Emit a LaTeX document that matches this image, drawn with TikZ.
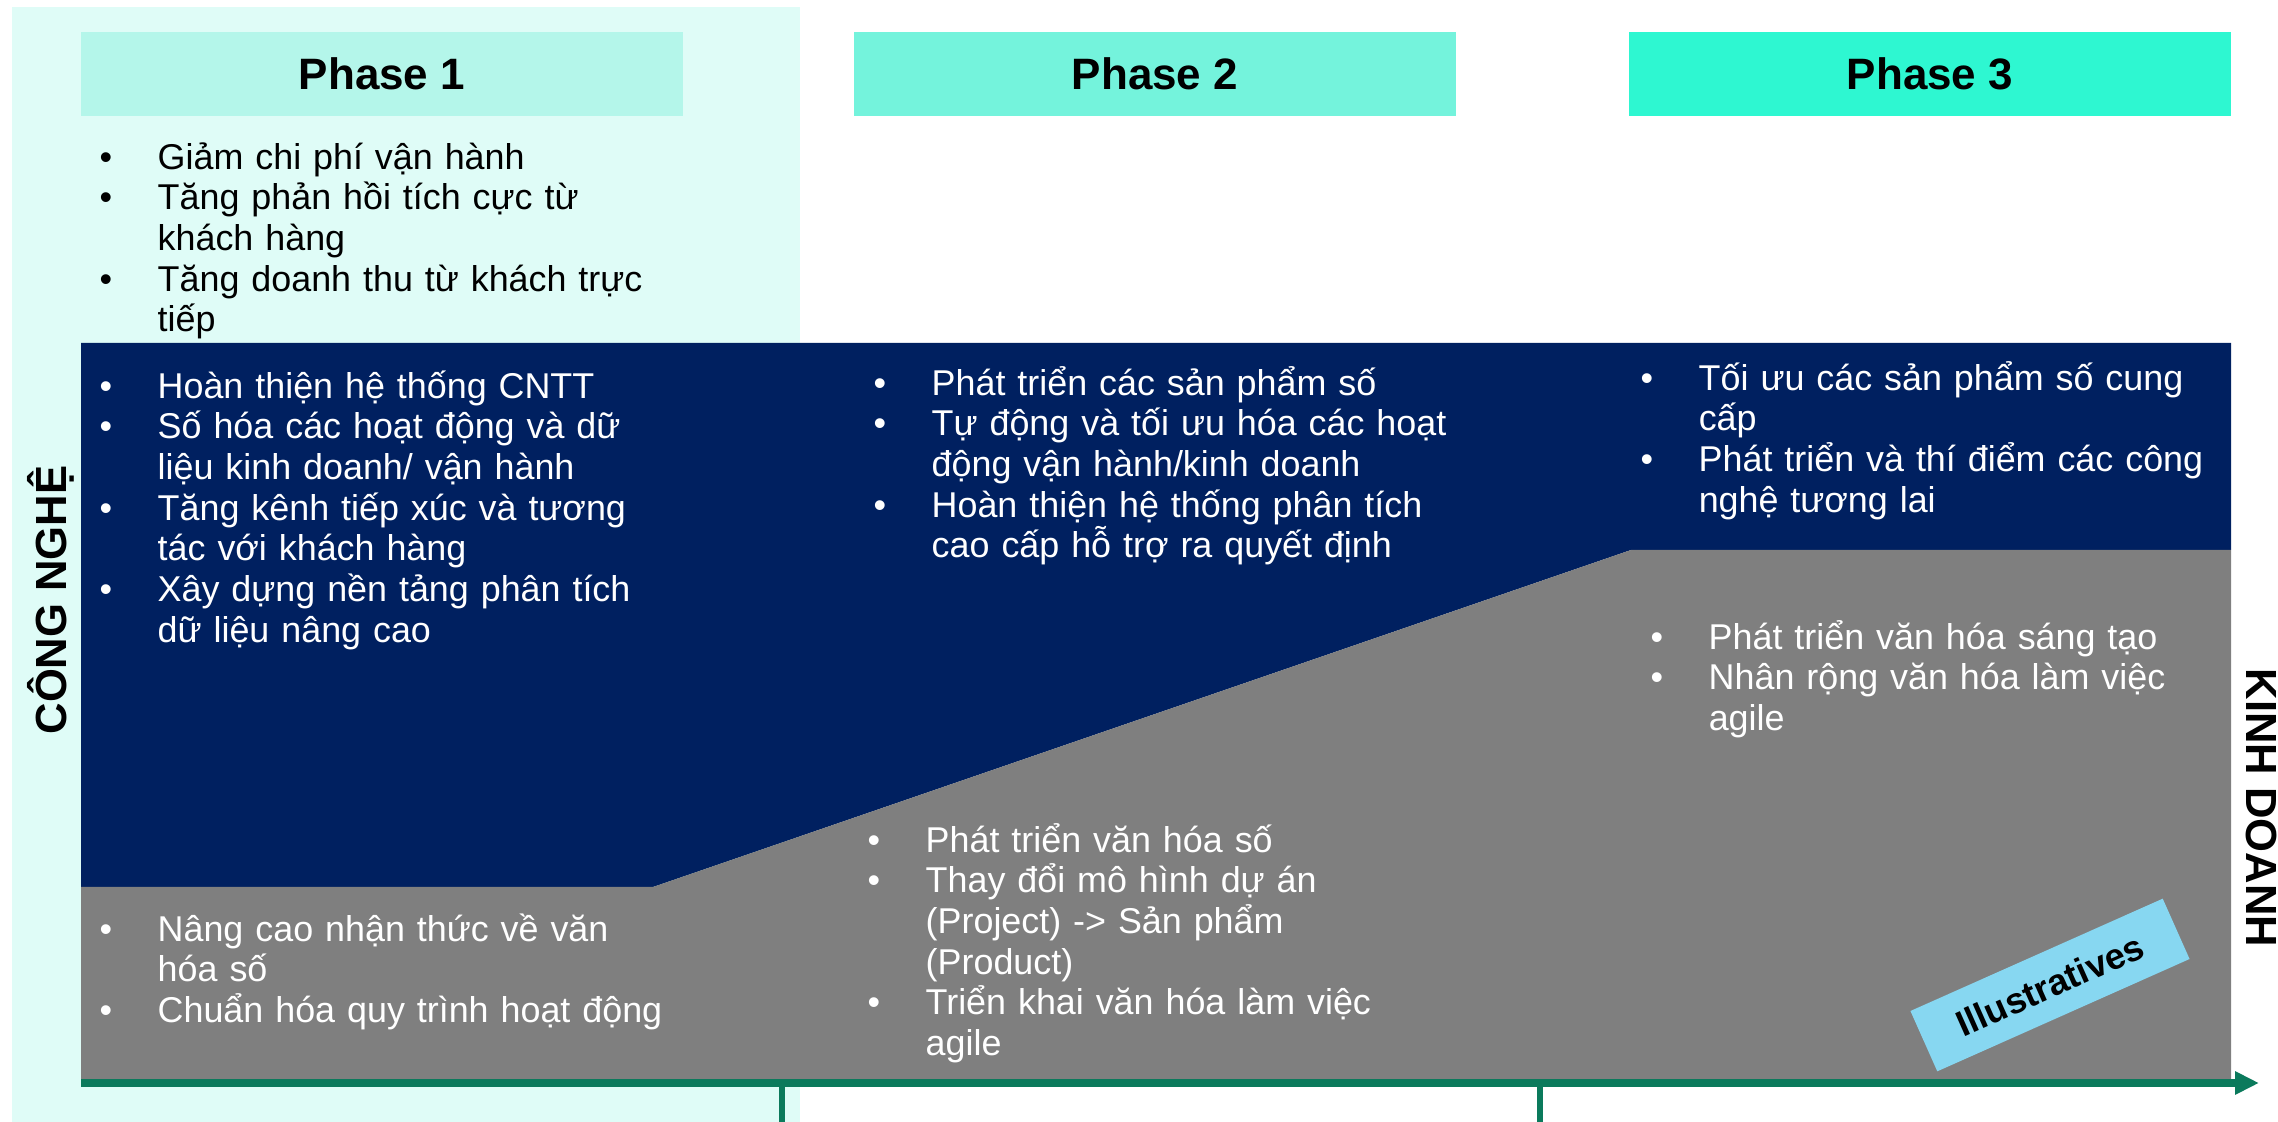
\documentclass[tikz,border=0pt]{standalone}
\usepackage{fontspec}
\setmainfont{Liberation Sans}
\usetikzlibrary{arrows.meta}

\definecolor{panelcyan}{HTML}{DFFCF7}
\definecolor{phaseone}{HTML}{B4F6EA}
\definecolor{phasetwo}{HTML}{74F3DC}
\definecolor{phasethree}{HTML}{2EF7D1}
\definecolor{techblue}{HTML}{002060}
\definecolor{bizgray}{HTML}{7F7F7F}
\definecolor{axisgreen}{HTML}{0B7A5C}
\definecolor{illublue}{HTML}{87D7F1}

% one bullet item, later lines hang under the text
\newcommand{\itm}[1]{\par\lineskiplimit=-100pt\noindent\hangindent=0.58cm\hangafter=1\rule{0pt}{11pt}\makebox[0.58cm][l]{\textbullet}#1}

\tikzset{
  phase/.style={fill=#1, minimum width=6.02cm, minimum height=0.83cm, inner sep=0pt,
    font=\fontsize{12.5pt}{15pt}\selectfont\bfseries},
  blocktext/.style={anchor=north west, inner sep=0pt, text width=6.5cm, align=left, text=#1,
    font=\fontsize{10.2pt}{11.55pt}\selectfont},
  axislabel/.style={inner sep=0pt, font=\fontsize{12.4pt}{14pt}\selectfont\bfseries}
}

\begin{document}
\begin{tikzpicture}[x=0.01cm,y=-0.01cm]
\useasboundingbox (0,0) rectangle (2278,1122);

\fill[panelcyan] (12,7) rectangle (800,1122);

\node[phase=phaseone] (ph1) at (382,74) {Phase 1};
\node[phase=phasetwo] (ph2) at (1155,74) {Phase 2};
\node[phase=phasethree] (ph3) at (1930,74) {Phase 3};

% technology part and business part
\fill[techblue] (81,343) -- (2231,343) -- (2231,550) -- (1631,550) -- (653,887) -- (81,887) -- cycle;
\fill[bizgray] (81,887) -- (653,887) -- (1631,550) -- (2231,550) -- (2231,1083) -- (81,1083) -- cycle;

\node[blocktext=black] (goals) at (99,128) {%
  \itm{Giảm chi phí vận hành}
  \itm{Tăng phản hồi tích cực từ\newline khách hàng}
  \itm{Tăng doanh thu từ khách trực\newline tiếp}\par};

\node[blocktext=white] (tech1) at (99,357) {%
  \itm{Hoàn thiện hệ thống CNTT}
  \itm{Số hóa các hoạt động và dữ\newline liệu kinh doanh/ vận hành}
  \itm{Tăng kênh tiếp xúc và tương\newline tác với khách hàng}
  \itm{Xây dựng nền tảng phân tích\newline dữ liệu nâng cao}\par};

\node[blocktext=white] (tech2) at (873,354) {%
  \itm{Phát triển các sản phẩm số}
  \itm{Tự động và tối ưu hóa các hoạt\newline động vận hành/kinh doanh}
  \itm{Hoàn thiện hệ thống phân tích\newline cao cấp hỗ trợ ra quyết định}\par};

\node[blocktext=white] (tech3) at (1640,349) {%
  \itm{Tối ưu các sản phẩm số cung\newline cấp}
  \itm{Phát triển và thí điểm các công\newline nghệ tương lai}\par};

\node[blocktext=white] (biz1) at (99,900) {%
  \itm{Nâng cao nhận thức về văn\newline hóa số}
  \itm{Chuẩn hóa quy trình hoạt động}\par};

\node[blocktext=white] (biz2) at (867,811) {%
  \itm{Phát triển văn hóa số}
  \itm{Thay đổi mô hình dự án\newline (Project) -> Sản phẩm\newline (Product)}
  \itm{Triển khai văn hóa làm việc\newline agile}\par};

\node[blocktext=white] (biz3) at (1650,608) {%
  \itm{Phát triển văn hóa sáng tạo}
  \itm{Nhân rộng văn hóa làm việc\newline agile}\par};

\node[fill=illublue, rotate=24, minimum width=2.76cm, minimum height=0.66cm, inner sep=0pt,
  font=\fontsize{10.3pt}{12pt}\selectfont\bfseries] (illu) at (2050,985) {Illustratives};

\node[axislabel, rotate=90] (tech) at (51,600) {CÔNG NGHỆ};
\node[axislabel, rotate=-90] (biz) at (2261,808) {KINH DOANH};

% time axis
\coordinate (o) at (81,1083);
\coordinate (tip) at (2259,1083);
\coordinate (t1) at (782,1083);
\coordinate (t1b) at (782,1122);
\coordinate (t2) at (1540,1083);
\coordinate (t2b) at (1540,1122);
\draw[axisgreen, line width=1.6pt] (t1) -- (t1b);
\draw[axisgreen, line width=1.6pt] (t2) -- (t2b);
\draw[axisgreen, line width=2.2pt, -{Triangle[length=0.24cm,width=0.22cm]}] (o) -- (tip);

\end{tikzpicture}
\end{document}
